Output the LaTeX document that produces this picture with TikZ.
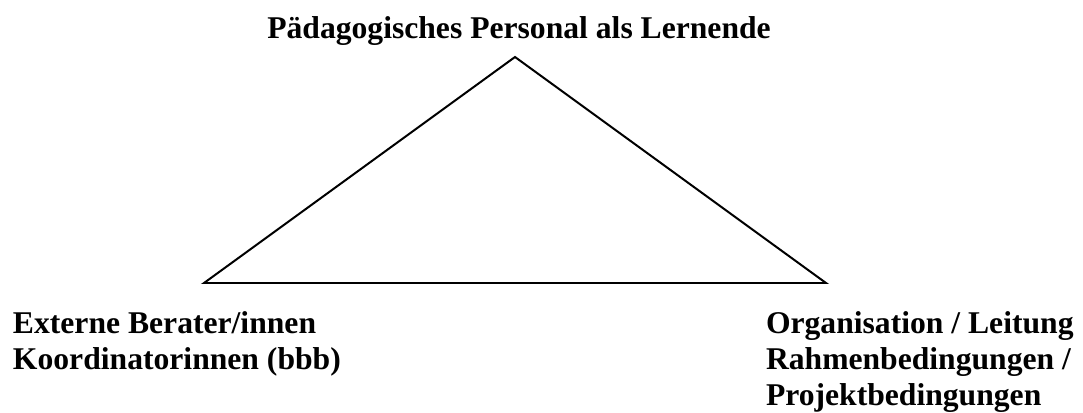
\documentclass[tikz,border=0pt]{standalone}
\usepackage{fontspec}
\setmainfont{Liberation Serif}
\usepackage{tikz}
\usetikzlibrary{positioning}

\begin{document}
\begin{tikzpicture}[
        x=0.3mm, y=-0.3mm,
        font=\fontsize{27}{30.7}\selectfont\bfseries,
        every node/.style={inner sep=0pt, outer sep=0pt},
        role/.style={align=left, anchor=base west},
        edge/.style={line width=1.7pt, line join=miter}
    ]
    \useasboundingbox (0,0) rectangle (1083,412);
    \coordinate (top) at (515,57);
    \coordinate (left) at (204,283);
    \coordinate (right) at (826,283);
    \node[anchor=base] (learn) at (519,38) {Pädagogisches Personal als Lernende};
    % base anchor sits on the last line
    \node[role] (ext) at (13,369) {Externe Berater/innen\\Koordinatorinnen (bbb)};
    \node[role] (org) at (766,405) {Organisation / Leitung\\Rahmenbedingungen /\\Projektbedingungen};
    \draw[edge] (top) -- (right) -- (left) -- cycle;
\end{tikzpicture}
\end{document}
